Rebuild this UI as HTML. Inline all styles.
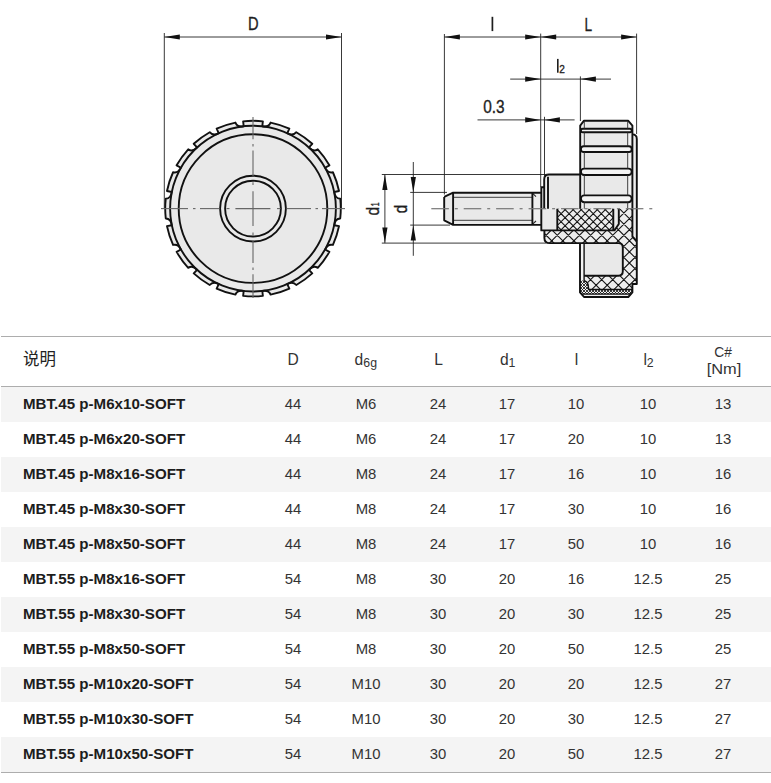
<!DOCTYPE html>
<html><head><meta charset="utf-8"><title>MBT SOFT</title>
<style>
html,body{margin:0;padding:0;background:#fff;}
body{width:771px;height:783px;position:relative;overflow:hidden;font-family:"Liberation Sans",sans-serif;color:#222;}
.tbl{position:absolute;left:1px;top:336px;width:770px;height:437px;}
.bt{position:absolute;left:0;width:770px;height:1px;background:#adadad;}
.row{position:absolute;left:0;width:770px;height:35px;}
.row.g{background:#f4f4f4;}
.c{position:absolute;top:-1px;height:35px;line-height:35px;font-size:15px;white-space:nowrap;color:#333;}
.n{left:22px;font-weight:bold;color:#1c1c1c;transform-origin:0 50%;transform:scaleX(1.008);}
.v{width:80px;text-align:center;transform:scaleX(.99);}
.h{position:absolute;font-size:15.6px;white-space:nowrap;color:#333;width:80px;text-align:center;transform:scaleX(1.0);line-height:16px;}
.h sub{font-size:12.3px;vertical-align:baseline;position:relative;top:2.3px;letter-spacing:.3px;}

</style></head><body>
<svg width="771" height="336" viewBox="0 0 771 336" style="position:absolute;left:0;top:0">
<g fill="#e9e9e9" stroke="#111" stroke-width="1.9" stroke-linejoin="round">
<path d="M262.86 121.36 L262.31 126.22 Q268.64 127.49 270.58 122.58 A87.80 87.80 0 0 1 289.34 128.67 L287.31 133.13 Q292.93 136.30 296.30 132.22 A87.80 87.80 0 0 1 312.26 143.82 L308.95 147.43 Q313.32 152.17 317.78 149.34 A87.80 87.80 0 0 1 329.38 165.30 L325.12 167.72 Q327.81 173.58 332.93 172.26 A87.80 87.80 0 0 1 339.02 191.02 L334.22 192.00 Q334.97 198.41 340.24 198.74 A87.80 87.80 0 0 1 340.24 218.46 Q334.97 218.79 334.22 225.20 L339.02 226.18 A87.80 87.80 0 0 1 332.93 244.94 Q327.81 243.62 325.12 249.48 L329.38 251.90 A87.80 87.80 0 0 1 317.78 267.86 Q313.32 265.03 308.95 269.77 L312.26 273.38 A87.80 87.80 0 0 1 296.30 284.98 Q292.93 280.90 287.31 284.07 L289.34 288.53 A87.80 87.80 0 0 1 270.58 294.62 Q268.64 289.71 262.31 290.98 L262.86 295.84 A87.80 87.80 0 0 1 243.14 295.84 L243.69 290.98 Q237.36 289.71 235.42 294.62 A87.80 87.80 0 0 1 216.66 288.53 L218.69 284.07 Q213.07 280.90 209.70 284.98 A87.80 87.80 0 0 1 193.74 273.38 L197.05 269.77 Q192.68 265.03 188.22 267.86 A87.80 87.80 0 0 1 176.62 251.90 L180.88 249.48 Q178.19 243.62 173.07 244.94 A87.80 87.80 0 0 1 166.98 226.18 L171.78 225.20 Q171.03 218.79 165.76 218.46 A87.80 87.80 0 0 1 165.76 198.74 Q171.03 198.41 171.78 192.00 L166.98 191.02 A87.80 87.80 0 0 1 173.07 172.26 Q178.19 173.58 180.88 167.72 L176.62 165.30 A87.80 87.80 0 0 1 188.22 149.34 Q192.68 152.17 197.05 147.43 L193.74 143.82 A87.80 87.80 0 0 1 209.70 132.22 Q213.07 136.30 218.69 133.13 L216.66 128.67 A87.80 87.80 0 0 1 235.42 122.58 Q237.36 127.49 243.69 126.22 L243.14 121.36 A87.80 87.80 0 0 1 262.86 121.36 Z"/>
<circle cx="253.0" cy="208.6" r="82.9" fill="none"/>
<circle cx="253.0" cy="208.6" r="74.3" fill="none"/>
<circle cx="253.0" cy="208.6" r="32.9" fill="none"/>
<circle cx="253.0" cy="208.6" r="27.9" fill="none"/>
</g>
<g stroke="#666" stroke-width="1.1" fill="none">
<line x1="161.0" y1="208.6" x2="188.0" y2="208.6"/><line x1="193.0" y1="208.6" x2="195.5" y2="208.6"/><line x1="200.0" y1="208.6" x2="219.5" y2="208.6"/><line x1="226.5" y1="208.6" x2="229.5" y2="208.6"/><line x1="235.4" y1="208.6" x2="270.4" y2="208.6"/><line x1="277.0" y1="208.6" x2="280.5" y2="208.6"/><line x1="286.6" y1="208.6" x2="311.0" y2="208.6"/><line x1="315.5" y1="208.6" x2="318.0" y2="208.6"/><line x1="322.0" y1="208.6" x2="345.0" y2="208.6"/>
<line x1="253.0" y1="117.0" x2="253.0" y2="139.3"/><line x1="253.0" y1="144.0" x2="253.0" y2="146.5"/><line x1="253.0" y1="150.6" x2="253.0" y2="175.9"/><line x1="253.0" y1="182.3" x2="253.0" y2="185.0"/><line x1="253.0" y1="191.3" x2="253.0" y2="225.9"/><line x1="253.0" y1="232.6" x2="253.0" y2="235.2"/><line x1="253.0" y1="240.5" x2="253.0" y2="263.0"/><line x1="253.0" y1="267.5" x2="253.0" y2="270.0"/><line x1="253.0" y1="274.2" x2="253.0" y2="298.0"/>
</g>
<g stroke="#222" stroke-width="0.9" fill="none">
<line x1="164.3" y1="33" x2="164.3" y2="208"/><line x1="341.5" y1="33" x2="341.5" y2="208"/><line x1="164.3" y1="37" x2="341.5" y2="37"/>
</g>
<g fill="#111" stroke="none"><path d="M164.30 37.00 L179.80 34.40 L179.80 39.60 Z"/><path d="M341.50 37.00 L326.00 39.60 L326.00 34.40 Z"/></g>
<g stroke="none" fill="#e9e9e9">
<path d="M444.2 196.9 L453.1 192.7 H541.3 V224.9 H453.1 L444.2 220.3 Z"/>
<path d="M544.2 208.7 V179.5 Q544.2 174.5 549 174.5 H580.2 V208.7 Z"/>
<path d="M532.4 192.7 H541.3 V224.9 H532.4 Z" fill="#eeeeee"/>
<path d="M544.2 208.7 V179.5 Q544.2 176 548 174.9 V208.7 Z" fill="#f1f1f1"/>
<path d="M541.3 187.2 H544.2 V208.7 H557.3 V230.4 H541.3 Z"/>
<path d="M580.2 208.7 V125.6 L584 120.7 H628.1 L632.4 125.6 V208.7 Z"/>
<path d="M632.4 134.4 Q636.8 134.4 636.8 139 V284 H632.4 Z" fill="#f0f0f0"/>
<path d="M580.2 125.6 L584.3 121 V208.7 H580.2 Z M632.4 125.6 L627.7 121 V208.7 H632.4 Z" fill="#f1f1f1"/>
<clipPath id="ci"><path d="M557.3 208.7 H613.3 V230.4 H557.3 Z"/></clipPath>
<path d="M557.3 208.7 H613.3 V230.4 H557.3 Z" fill="#eeeeee"/>
<path clip-path="url(#ci)" d="M556.00 194.68L615.00 135.68M556.00 202.72L615.00 143.72M556.00 210.76L615.00 151.76M556.00 218.80L615.00 159.80M556.00 226.84L615.00 167.84M556.00 234.88L615.00 175.88M556.00 242.92L615.00 183.92M556.00 250.96L615.00 191.96M556.00 259.00L615.00 200.00M556.00 267.04L615.00 208.04M556.00 275.08L615.00 216.08M556.00 283.12L615.00 224.12M556.00 291.16L615.00 232.16M556.00 299.20L615.00 240.20M556.00 240.80L615.00 299.80M556.00 232.76L615.00 291.76M556.00 224.72L615.00 283.72M556.00 216.68L615.00 275.68M556.00 208.64L615.00 267.64M556.00 200.60L615.00 259.60M556.00 192.56L615.00 251.56M556.00 184.52L615.00 243.52M556.00 176.48L615.00 235.48M556.00 168.44L615.00 227.44M556.00 160.40L615.00 219.40M556.00 152.36L615.00 211.36M556.00 144.32L615.00 203.32M556.00 136.28L615.00 195.28" stroke="#151515" stroke-width="1.1" fill="none"/>
<path d="M613.3 208.7 H618.8 V224 L614.5 230.4 H613.3 Z" fill="#ececec"/>
<clipPath id="cp"><path d="M544.4 230.4 H614.5 L618.8 224 V208.7 H632.4 V236.5 L636.8 241.5 V284 H632.4 V289.5 H588.6 L588.2 285 Q587.5 281.5 584.1 280.6 V275.7 H618.4 Q622.8 275.7 622.8 271.3 V247.5 Q622.8 243.1 618.4 243.1 H549.5 Q544.4 243.1 544.4 238 Z"/></clipPath>
<path d="M544.4 230.4 H614.5 L618.8 224 V208.7 H632.4 V236.5 L636.8 241.5 V284 H632.4 V289.5 H588.6 L588.2 285 Q587.5 281.5 584.1 280.6 V275.7 H618.4 Q622.8 275.7 622.8 271.3 V247.5 Q622.8 243.1 618.4 243.1 H549.5 Q544.4 243.1 544.4 238 Z" fill="#eeeeee"/>
<path clip-path="url(#cp)" d="M543.00 194.00L638.00 99.00M543.00 205.10L638.00 110.10M543.00 216.20L638.00 121.20M543.00 227.30L638.00 132.30M543.00 238.40L638.00 143.40M543.00 249.50L638.00 154.50M543.00 260.60L638.00 165.60M543.00 271.70L638.00 176.70M543.00 282.80L638.00 187.80M543.00 293.90L638.00 198.90M543.00 305.00L638.00 210.00M543.00 316.10L638.00 221.10M543.00 327.20L638.00 232.20M543.00 338.30L638.00 243.30M543.00 349.40L638.00 254.40M543.00 360.50L638.00 265.50M543.00 371.60L638.00 276.60M543.00 382.70L638.00 287.70M543.00 393.80L638.00 298.80M543.00 404.90L638.00 309.90M543.00 309.80L638.00 404.80M543.00 298.70L638.00 393.70M543.00 287.60L638.00 382.60M543.00 276.50L638.00 371.50M543.00 265.40L638.00 360.40M543.00 254.30L638.00 349.30M543.00 243.20L638.00 338.20M543.00 232.10L638.00 327.10M543.00 221.00L638.00 316.00M543.00 209.90L638.00 304.90M543.00 198.80L638.00 293.80M543.00 187.70L638.00 282.70M543.00 176.60L638.00 271.60M543.00 165.50L638.00 260.50M543.00 154.40L638.00 249.40M543.00 143.30L638.00 238.30M543.00 132.20L638.00 227.20M543.00 121.10L638.00 216.10M543.00 110.00L638.00 205.00M543.00 98.90L638.00 193.90" stroke="#151515" stroke-width="1.1" fill="none"/>
<path d="M584.1 243.1 H618.4 Q622.8 243.1 622.8 247.5 V271.3 Q622.8 275.7 618.4 275.7 H584.1 Z"/>
<path d="M580 243.1 H584.1 V281 H580 Z" fill="#f3f3f3"/>
<clipPath id="cs"><path d="M580 281 L584.1 280.6 Q587.5 281.5 588.2 285 L588.6 289.5 H632.4 V292.4 L631 294 H581 L580 292.4 Z"/></clipPath>
<path d="M580 281 L584.1 280.6 Q587.5 281.5 588.2 285 L588.6 289.5 H632.4 V292.4 L631 294 H581 L580 292.4 Z" fill="#f2f2f2"/>
<path clip-path="url(#cs)" d="M579.00 275.00L633.00 221.00M579.00 278.00L633.00 224.00M579.00 281.00L633.00 227.00M579.00 284.00L633.00 230.00M579.00 287.00L633.00 233.00M579.00 290.00L633.00 236.00M579.00 293.00L633.00 239.00M579.00 296.00L633.00 242.00M579.00 299.00L633.00 245.00M579.00 302.00L633.00 248.00M579.00 305.00L633.00 251.00M579.00 308.00L633.00 254.00M579.00 311.00L633.00 257.00M579.00 314.00L633.00 260.00M579.00 317.00L633.00 263.00M579.00 320.00L633.00 266.00M579.00 323.00L633.00 269.00M579.00 326.00L633.00 272.00M579.00 329.00L633.00 275.00M579.00 332.00L633.00 278.00M579.00 335.00L633.00 281.00M579.00 338.00L633.00 284.00M579.00 341.00L633.00 287.00M579.00 344.00L633.00 290.00M579.00 347.00L633.00 293.00M579.00 350.00L633.00 296.00M579.00 353.00L633.00 299.00M579.00 298.00L633.00 352.00M579.00 295.00L633.00 349.00M579.00 292.00L633.00 346.00M579.00 289.00L633.00 343.00M579.00 286.00L633.00 340.00M579.00 283.00L633.00 337.00M579.00 280.00L633.00 334.00M579.00 277.00L633.00 331.00M579.00 274.00L633.00 328.00M579.00 271.00L633.00 325.00M579.00 268.00L633.00 322.00M579.00 265.00L633.00 319.00M579.00 262.00L633.00 316.00M579.00 259.00L633.00 313.00M579.00 256.00L633.00 310.00M579.00 253.00L633.00 307.00M579.00 250.00L633.00 304.00M579.00 247.00L633.00 301.00M579.00 244.00L633.00 298.00M579.00 241.00L633.00 295.00M579.00 238.00L633.00 292.00M579.00 235.00L633.00 289.00M579.00 232.00L633.00 286.00M579.00 229.00L633.00 283.00M579.00 226.00L633.00 280.00M579.00 223.00L633.00 277.00" stroke="#1a1a1a" stroke-width="0.85" fill="none"/>
<path d="M580 292.4 L584 297 H628.3 L632.4 292.4 L631 294 H581 Z" fill="#f1f1f1"/>
</g>
<g fill="#f4f4f4" stroke="#111" stroke-width="1.9">
<rect x="580.9" y="128.7" width="50.8" height="3.6" rx="1.8" ry="1.8"/>
<rect x="580.9" y="146.3" width="50.8" height="5.7" rx="2.8" ry="2.8"/>
<rect x="580.9" y="168.6" width="50.8" height="6.4" rx="3.2" ry="3.2"/>
<rect x="580.9" y="195.4" width="50.8" height="6.8" rx="3.4" ry="3.4"/>
</g>
<g stroke="#2a2a2a" stroke-width="0.9" fill="none">
<line x1="584.3" y1="121.6" x2="584.3" y2="128.7"/><line x1="627.7" y1="121.6" x2="627.7" y2="128.7"/>
<line x1="584.3" y1="132.3" x2="584.3" y2="146.3"/><line x1="627.7" y1="132.3" x2="627.7" y2="146.3"/>
<line x1="584.3" y1="152.0" x2="584.3" y2="168.6"/><line x1="627.7" y1="152.0" x2="627.7" y2="168.6"/>
<line x1="584.3" y1="175.0" x2="584.3" y2="195.4"/><line x1="627.7" y1="175.0" x2="627.7" y2="195.4"/>
<line x1="584.3" y1="202.2" x2="584.3" y2="208.7"/><line x1="627.7" y1="202.2" x2="627.7" y2="208.7"/>
<line x1="453.1" y1="197.3" x2="532.4" y2="197.3"/><line x1="453.1" y1="220.3" x2="532.4" y2="220.3"/>
<path d="M532.6 193.4 L536 196.6 M532.6 224.2 L536 221" stroke-width="1.1"/>
</g>
<g fill="none" stroke="#111" stroke-width="1.9" stroke-linejoin="round" stroke-linecap="butt">
<path d="M444.2 196.9 L453.1 192.7 H541.3 M541.3 224.9 H453.1 L444.2 220.3 V196.9 M453.1 192.7 V224.9 M532.4 192.7 V224.9"/>
<path d="M544.2 208.7 V179.5 Q544.2 174.5 549 174.5 H580.2 M548 176.8 V208.7"/>
<path d="M544.2 187.2 H541.3 V230.4 H614.5 L618.8 224 V208.7 M557.3 208.7 V230.4 M613.3 208.7 V229.6"/>
<path d="M580.2 208.7 V125.6 L584 120.7 H628.1 L632.4 125.6 V236.5 L636.8 241.5"/>
<path d="M632.4 134.4 Q636.8 134.4 636.8 139 V284 H632.4 V292.4 L628.3 297 H584 L580 292.4 V243.1"/>
<path d="M544.4 230.4 V238 Q544.4 243.1 549.5 243.1 H618.4 Q622.8 243.1 622.8 247.5 V271.3 Q622.8 275.7 618.4 275.7 H584.1"/>
<path d="M584.1 243.1 V280.6 Q587.5 281.5 588.2 285 L588.6 289.5 H632.4" stroke-width="1.4"/>
<path d="M581.5 294.2 H630.8" stroke-width="1.2"/>
</g>
<g stroke="#777" stroke-width="1.2" fill="none">
<line x1="431.3" y1="208.7" x2="448.9" y2="208.7"/><line x1="454.8" y1="208.7" x2="457.8" y2="208.7"/><line x1="463.7" y1="208.7" x2="481.3" y2="208.7"/><line x1="487.2" y1="208.7" x2="490.2" y2="208.7"/><line x1="496.1" y1="208.7" x2="513.7" y2="208.7"/><line x1="519.6" y1="208.7" x2="522.6" y2="208.7"/><line x1="528.6" y1="208.7" x2="546.2" y2="208.7"/><line x1="552.1" y1="208.7" x2="555.1" y2="208.7"/><line x1="561.0" y1="208.7" x2="578.6" y2="208.7"/><line x1="584.5" y1="208.7" x2="587.5" y2="208.7"/><line x1="593.4" y1="208.7" x2="611.0" y2="208.7"/><line x1="616.9" y1="208.7" x2="619.9" y2="208.7"/><line x1="625.8" y1="208.7" x2="643.4" y2="208.7"/><line x1="649.3" y1="208.7" x2="652.3" y2="208.7"/>
</g>
<g stroke="#222" stroke-width="0.9" fill="none">
<line x1="444.4" y1="34" x2="444.4" y2="194.5"/>
<line x1="540.7" y1="33.6" x2="540.7" y2="187"/>
<line x1="636.6" y1="33.6" x2="636.6" y2="134"/>
<line x1="580.4" y1="76.4" x2="580.4" y2="121"/>
<line x1="544.5" y1="116.8" x2="544.5" y2="177.5"/>
<line x1="444.4" y1="37" x2="636.6" y2="37"/>
<line x1="510.2" y1="79.1" x2="611" y2="79.1"/>
<line x1="477.5" y1="119.9" x2="574.6" y2="119.9"/>
<line x1="381.8" y1="174.5" x2="548" y2="174.5"/>
<line x1="381.8" y1="243.1" x2="546" y2="243.1"/>
<line x1="410.2" y1="192.4" x2="447" y2="192.4"/>
<line x1="410.2" y1="225.1" x2="450" y2="225.1"/>
<line x1="384.9" y1="174.5" x2="384.9" y2="243.1"/>
<line x1="413.3" y1="162" x2="413.3" y2="255.8"/>
</g>
<g fill="#111" stroke="none">
<path d="M444.40 37.00 L459.90 34.40 L459.90 39.60 Z"/><path d="M540.70 37.00 L525.20 39.60 L525.20 34.40 Z"/><path d="M540.70 37.00 L556.20 34.40 L556.20 39.60 Z"/><path d="M636.60 37.00 L621.10 39.60 L621.10 34.40 Z"/>
<path d="M540.70 79.10 L525.20 81.70 L525.20 76.50 Z"/><path d="M580.40 79.10 L595.90 76.50 L595.90 81.70 Z"/>
<path d="M540.70 119.90 L525.20 122.50 L525.20 117.30 Z"/><path d="M544.40 119.90 L559.90 117.30 L559.90 122.50 Z"/>
<path d="M384.90 174.50 L387.50 190.00 L382.30 190.00 Z"/><path d="M384.90 243.10 L382.30 227.60 L387.50 227.60 Z"/>
<path d="M413.30 192.40 L410.70 176.90 L415.90 176.90 Z"/><path d="M413.30 225.10 L415.90 240.60 L410.70 240.60 Z"/>
</g>
<g font-family="'Liberation Sans', sans-serif" fill="#1e1e1e" stroke="#1e1e1e" stroke-width="0.35" font-size="18.8">
<text x="247.9" y="30.4" textLength="10.6" lengthAdjust="spacingAndGlyphs">D</text>
<text x="584.6" y="30.9" textLength="7.6" lengthAdjust="spacingAndGlyphs">L</text>
<text x="559.2" y="72.8" textLength="5.6" lengthAdjust="spacingAndGlyphs" font-size="11.8">2</text>
<text x="483.2" y="113.0" textLength="21.4" lengthAdjust="spacingAndGlyphs">0.3</text>
<g transform="translate(378.6 215.5) rotate(-90)"><text x="0.0" y="0.0" textLength="8.6" lengthAdjust="spacingAndGlyphs" font-size="18.5">d</text><text x="9.3" y="0.1" textLength="3.8" lengthAdjust="spacingAndGlyphs" font-size="11.6">1</text></g>
<g transform="translate(407.1 213.2) rotate(-90)"><text x="0.0" y="0.0" textLength="8.4" lengthAdjust="spacingAndGlyphs" font-size="18.5">d</text></g>
</g>
<g fill="#1e1e1e" stroke="none"><rect x="491.55" y="16.8" width="1.7" height="14.3"/><rect x="557.0" y="58.9" width="1.6" height="13.8"/></g>
</svg>
<div class="tbl">
<div class="bt" style="top:0"></div><div class="bt" style="top:50px"></div><div class="bt" style="top:436px"></div>
<div style="position:absolute;left:21.9px;top:13.6px;width:33px;height:19px;line-height:19px;font-size:16.5px;white-space:nowrap;color:#222;font-family:'Liberation Sans','Noto Sans CJK SC',sans-serif;">说明</div>
<div class="h" style="left:252.2px;top:15.7px">D</div>
<div class="h" style="left:325.0px;top:15.7px">d<sub>6g</sub></div>
<div class="h" style="left:397.5px;top:15.7px">L</div>
<div class="h" style="left:466.8px;top:15.7px">d<sub>1</sub></div>
<div class="h" style="left:535.6px;top:15.7px">l</div>
<div class="h" style="left:607.7px;top:15.7px">l<sub>2</sub></div>
<div class="h" style="left:681.5px;top:7.6px;font-size:14.5px;transform:scaleX(.95)">C#</div>
<div class="h" style="left:682.5px;top:24.7px;font-size:14.5px;transform:scaleX(1.13)">[Nm]</div>
<div class="row g" style="top:51px">
<div class="c n">MBT.45 p-M6x10-SOFT</div>
<div class="c v" style="left:251.8px">44</div>
<div class="c v" style="left:324.6px">M6</div>
<div class="c v" style="left:397.1px">24</div>
<div class="c v" style="left:466.4px">17</div>
<div class="c v" style="left:535.2px">10</div>
<div class="c v" style="left:607.3px">10</div>
<div class="c v" style="left:682.4px">13</div>
</div>
<div class="row" style="top:86px">
<div class="c n">MBT.45 p-M6x20-SOFT</div>
<div class="c v" style="left:251.8px">44</div>
<div class="c v" style="left:324.6px">M6</div>
<div class="c v" style="left:397.1px">24</div>
<div class="c v" style="left:466.4px">17</div>
<div class="c v" style="left:535.2px">20</div>
<div class="c v" style="left:607.3px">10</div>
<div class="c v" style="left:682.4px">13</div>
</div>
<div class="row g" style="top:121px">
<div class="c n">MBT.45 p-M8x16-SOFT</div>
<div class="c v" style="left:251.8px">44</div>
<div class="c v" style="left:324.6px">M8</div>
<div class="c v" style="left:397.1px">24</div>
<div class="c v" style="left:466.4px">17</div>
<div class="c v" style="left:535.2px">16</div>
<div class="c v" style="left:607.3px">10</div>
<div class="c v" style="left:682.4px">16</div>
</div>
<div class="row" style="top:156px">
<div class="c n">MBT.45 p-M8x30-SOFT</div>
<div class="c v" style="left:251.8px">44</div>
<div class="c v" style="left:324.6px">M8</div>
<div class="c v" style="left:397.1px">24</div>
<div class="c v" style="left:466.4px">17</div>
<div class="c v" style="left:535.2px">30</div>
<div class="c v" style="left:607.3px">10</div>
<div class="c v" style="left:682.4px">16</div>
</div>
<div class="row g" style="top:191px">
<div class="c n">MBT.45 p-M8x50-SOFT</div>
<div class="c v" style="left:251.8px">44</div>
<div class="c v" style="left:324.6px">M8</div>
<div class="c v" style="left:397.1px">24</div>
<div class="c v" style="left:466.4px">17</div>
<div class="c v" style="left:535.2px">50</div>
<div class="c v" style="left:607.3px">10</div>
<div class="c v" style="left:682.4px">16</div>
</div>
<div class="row" style="top:226px">
<div class="c n">MBT.55 p-M8x16-SOFT</div>
<div class="c v" style="left:251.8px">54</div>
<div class="c v" style="left:324.6px">M8</div>
<div class="c v" style="left:397.1px">30</div>
<div class="c v" style="left:466.4px">20</div>
<div class="c v" style="left:535.2px">16</div>
<div class="c v" style="left:607.3px">12.5</div>
<div class="c v" style="left:682.4px">25</div>
</div>
<div class="row g" style="top:261px">
<div class="c n">MBT.55 p-M8x30-SOFT</div>
<div class="c v" style="left:251.8px">54</div>
<div class="c v" style="left:324.6px">M8</div>
<div class="c v" style="left:397.1px">30</div>
<div class="c v" style="left:466.4px">20</div>
<div class="c v" style="left:535.2px">30</div>
<div class="c v" style="left:607.3px">12.5</div>
<div class="c v" style="left:682.4px">25</div>
</div>
<div class="row" style="top:296px">
<div class="c n">MBT.55 p-M8x50-SOFT</div>
<div class="c v" style="left:251.8px">54</div>
<div class="c v" style="left:324.6px">M8</div>
<div class="c v" style="left:397.1px">30</div>
<div class="c v" style="left:466.4px">20</div>
<div class="c v" style="left:535.2px">50</div>
<div class="c v" style="left:607.3px">12.5</div>
<div class="c v" style="left:682.4px">25</div>
</div>
<div class="row g" style="top:331px">
<div class="c n">MBT.55 p-M10x20-SOFT</div>
<div class="c v" style="left:251.8px">54</div>
<div class="c v" style="left:324.6px">M10</div>
<div class="c v" style="left:397.1px">30</div>
<div class="c v" style="left:466.4px">20</div>
<div class="c v" style="left:535.2px">20</div>
<div class="c v" style="left:607.3px">12.5</div>
<div class="c v" style="left:682.4px">27</div>
</div>
<div class="row" style="top:366px">
<div class="c n">MBT.55 p-M10x30-SOFT</div>
<div class="c v" style="left:251.8px">54</div>
<div class="c v" style="left:324.6px">M10</div>
<div class="c v" style="left:397.1px">30</div>
<div class="c v" style="left:466.4px">20</div>
<div class="c v" style="left:535.2px">30</div>
<div class="c v" style="left:607.3px">12.5</div>
<div class="c v" style="left:682.4px">27</div>
</div>
<div class="row g" style="top:401px">
<div class="c n">MBT.55 p-M10x50-SOFT</div>
<div class="c v" style="left:251.8px">54</div>
<div class="c v" style="left:324.6px">M10</div>
<div class="c v" style="left:397.1px">30</div>
<div class="c v" style="left:466.4px">20</div>
<div class="c v" style="left:535.2px">50</div>
<div class="c v" style="left:607.3px">12.5</div>
<div class="c v" style="left:682.4px">27</div>
</div>
</div>
</body></html>
